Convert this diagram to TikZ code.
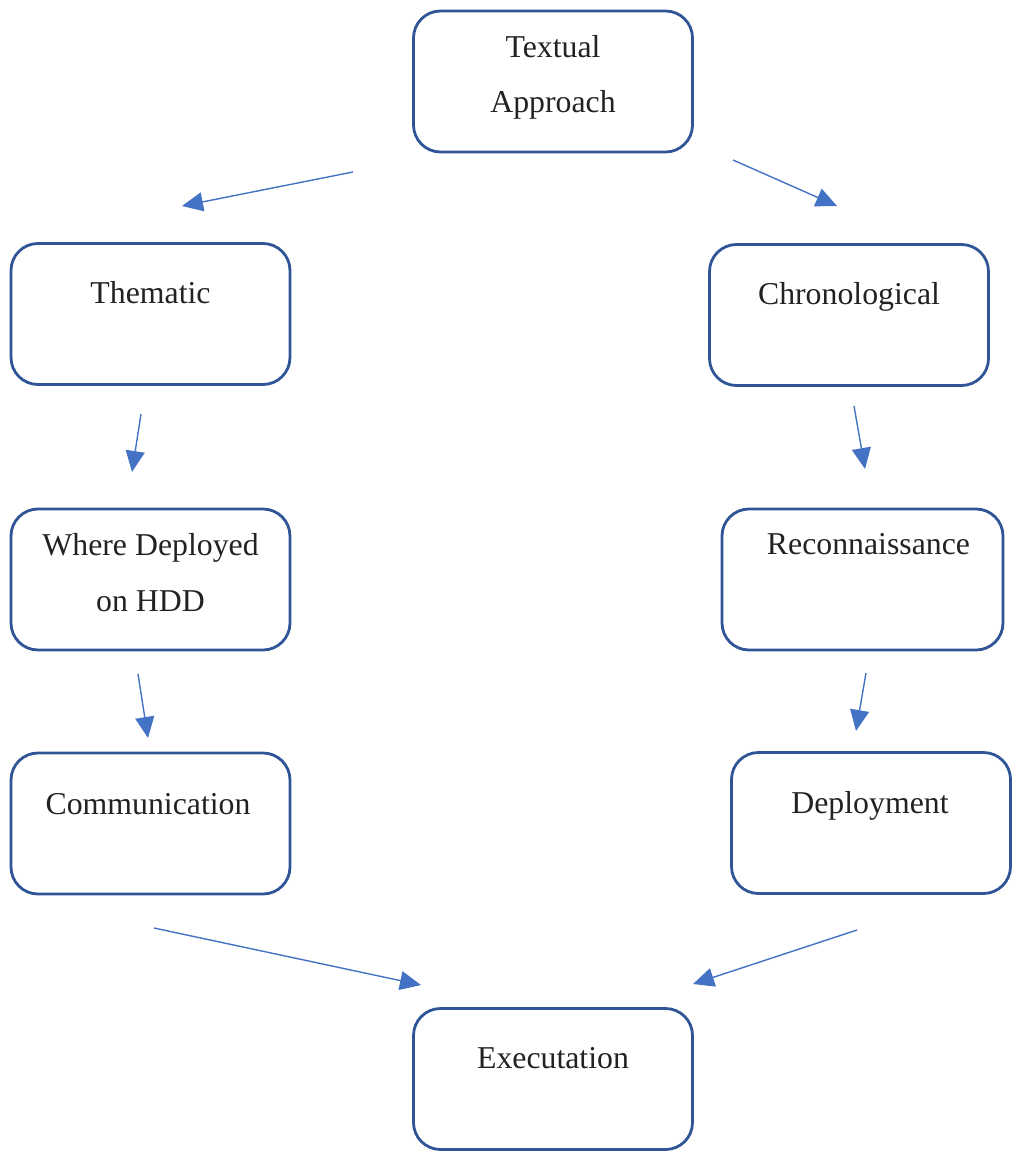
\documentclass[tikz,border=0pt]{standalone}
\usepackage{fontspec}
\setmainfont{Liberation Serif}
\usetikzlibrary{arrows.meta}
\definecolor{boxblue}{HTML}{2F5597}
\definecolor{arrowblue}{HTML}{4472C4}
\definecolor{inkgray}{HTML}{222222}
\begin{document}
\begin{tikzpicture}[x=1pt,y=-1pt,
  stagebox/.style={draw=boxblue, line width=2.8pt, rounded corners=27pt,
    minimum width=279pt, minimum height=141pt, inner sep=0pt},
  label/.style={anchor=base, inner sep=0pt, text=inkgray,
    font=\fontsize{31.8}{55}\selectfont},
  flow/.style={draw=arrowblue, line width=1.4pt,
    -{Triangle[length=21pt,width=19pt]}}
]
\useasboundingbox (0,0) rectangle (1017,1158);

% stage boxes
\node[stagebox] (textual) at (553,81.5) {};
\node[stagebox] (thematic) at (150.5,314) {};
\node[stagebox] (chrono) at (849,315) {};
\node[stagebox] (where) at (150.5,579.5) {};
\node[stagebox, minimum width=281pt] (recon) at (862.5,579.5) {};
\node[stagebox] (comm) at (150.5,823.5) {};
\node[stagebox] (deploy) at (871,823) {};
\node[stagebox] (exec) at (553,1079) {};

% stage titles
\node[label] (t-textual1) at (553,58) {Textual};
\node[label] (t-textual2) at (553,113) {Approach};
\node[label] (t-thematic) at (150.5,303) {Thematic};
\node[label] (t-chrono) at (849,304) {Chronological};
\node[label] (t-where1) at (150.5,555) {Where Deployed};
\node[label] (t-where2) at (150.5,611) {on HDD};
\node[label] (t-recon) at (868.5,554) {Reconnaissance};
\node[label] (t-comm) at (148,814) {Communication};
\node[label] (t-deploy) at (870,813) {Deployment};
\node[label] (t-exec) at (553,1068) {Executation};

% free-standing arrow end points
\coordinate (a1s) at (353,172);  \coordinate (a1e) at (182,206);
\coordinate (a2s) at (733,160);  \coordinate (a2e) at (837,206);
\coordinate (a3s) at (141,414);  \coordinate (a3e) at (132,472);
\coordinate (a4s) at (854,406);  \coordinate (a4e) at (865,469);
\coordinate (a5s) at (138,674);  \coordinate (a5e) at (148,738);
\coordinate (a6s) at (866,673);  \coordinate (a6e) at (856,731);
\coordinate (a7s) at (154,928);  \coordinate (a7e) at (421,985);
\coordinate (a8s) at (857,930);  \coordinate (a8e) at (693,984);

\draw[flow] (a1s) -- (a1e);
\draw[flow] (a2s) -- (a2e);
\draw[flow] (a3s) -- (a3e);
\draw[flow] (a4s) -- (a4e);
\draw[flow] (a5s) -- (a5e);
\draw[flow] (a6s) -- (a6e);
\draw[flow] (a7s) -- (a7e);
\draw[flow] (a8s) -- (a8e);
\end{tikzpicture}
\end{document}
